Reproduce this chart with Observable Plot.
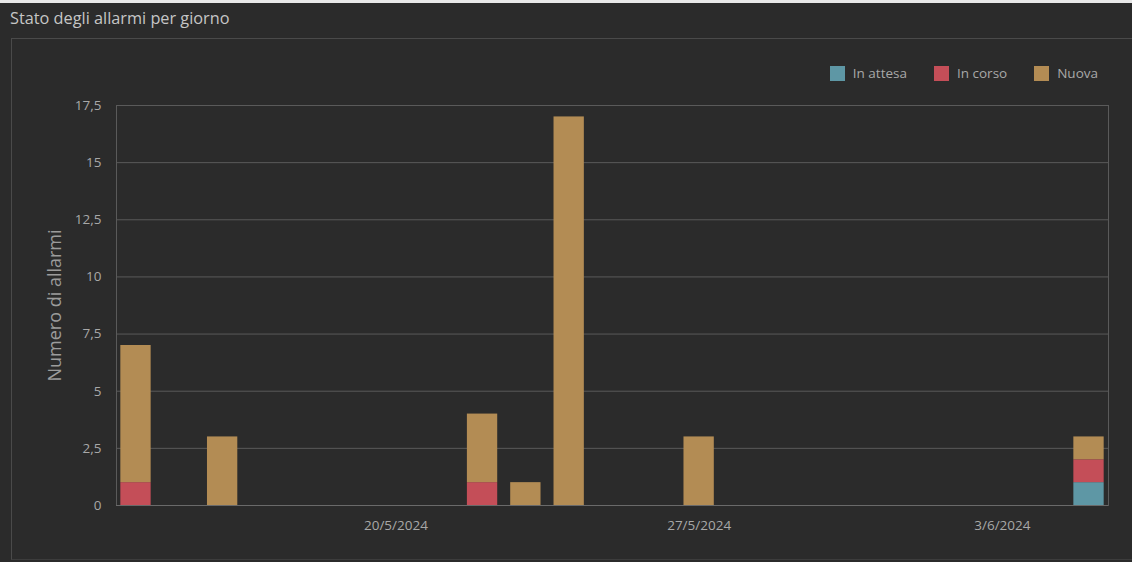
<!DOCTYPE html>
<html>
<head>
<meta charset="utf-8">
<script src="https://cdn.jsdelivr.net/npm/d3@7"></script>
<script src="https://cdn.jsdelivr.net/npm/@observablehq/plot@0.6"></script>
<style>
  html, body { margin: 0; padding: 0; background: #2b2b2b; width: 1132px; height: 562px; overflow: hidden; font-family: "Open Sans", "Noto Sans", sans-serif; }
  #topstrip { position: absolute; left: 0; top: 0; width: 1132px; height: 3px; background: #e8e8e8; }
  #title { position: absolute; left: 10px; top: 7px; font-size: 16.3px; color: #c6c6c6; }
  #panel { position: absolute; left: 11px; top: 38px; width: 1121px; height: 522px; border-top: 1px solid #4a4a4a; border-left: 1px solid #4a4a4a; border-bottom: 1px solid #3c3c3c; box-sizing: border-box; }
  #legend { position: absolute; right: 34px; top: 64px; display: flex; gap: 27px; font-size: 13.5px; color: #a8a8a8; }
  #legend .item { display: flex; align-items: center; gap: 8px; }
  #legend .sw { width: 15px; height: 15px; display: inline-block; }
  #chart { position: absolute; left: 0; top: 60px; }
</style>
</head>
<body>
<div id="topstrip"></div>
<div id="title">Stato degli allarmi per giorno</div>
<div id="panel"></div>
<div id="legend"></div>
<div id="chart"></div>
<script>
// Data
const dates = ["2024-05-14", "2024-05-16", "2024-05-22", "2024-05-23", "2024-05-24", "2024-05-27", "2024-06-05"];
const inAttesa = [0, 0, 0, 0, 0, 0, 1];
const inCorso  = [1, 0, 1, 0, 0, 0, 1];
const nuova    = [6, 3, 3, 1, 17, 3, 1];
const statuses = ["In attesa", "In corso", "Nuova"];
const colors = ["#5e97a5", "#c44e58", "#b38c54"];
const yTicks = [0, 2.5, 5, 7.5, 10, 12.5, 15, 17.5];
const xTickDates = ["2024-05-20", "2024-05-27", "2024-06-03"];
const firstDay = "2024-05-14";
const lastDay = "2024-06-05";

// Build tidy table
const series = [inAttesa, inCorso, nuova];
const table = [];
dates.forEach((d, i) => {
  statuses.forEach((s, k) => {
    if (series[k][i] > 0) table.push({date: d, status: s, value: series[k][i]});
  });
});

// full day domain for band scale
const fmtISO = d3.utcFormat("%Y-%m-%d");
const dayDomain = d3.utcDay.range(new Date(firstDay + "T00:00Z"), d3.utcDay.offset(new Date(lastDay + "T00:00Z"), 1)).map(fmtISO);
const fmtLabel = s => { const [y, m, d] = s.split("-"); return `${+d}/${+m}/${y}`; };

// Legend
const legend = document.getElementById("legend");
statuses.forEach((s, k) => {
  const it = document.createElement("div");
  it.className = "item";
  it.innerHTML = `<span class="sw" style="background:${colors[k]}"></span><span>${s}</span>`;
  legend.appendChild(it);
});

const plot = Plot.plot({
  width: 1132,
  height: 480,
  marginLeft: 116,
  marginRight: 24,
  marginTop: 45,
  marginBottom: 35,
  style: { background: "transparent", color: "#a8a8a8", fontFamily: "'Open Sans', 'Noto Sans', sans-serif", fontSize: "13.5px" },
  x: { type: "band", domain: dayDomain, paddingInner: 0.3, paddingOuter: 0.1, round: false, label: null },
  y: { domain: [0, 17.5], label: null },
  color: { domain: statuses, range: colors },
  marks: [
    Plot.gridY(yTicks, { stroke: "#5a5a5a", strokeOpacity: 1 }),
    Plot.frame({ stroke: "#5a5a5a" }),
    Plot.barY(table, { x: "date", y: "value", fill: "status", order: statuses }),
    Plot.ruleY([0], { stroke: "#6a6a6a" }),
    Plot.axisY({ ticks: yTicks, tickSize: 0, tickPadding: 15, tickFormat: d => String(d).replace(".", ","), label: null, fill: "#a8a8a8" }),
    Plot.axisX({ ticks: xTickDates, tickSize: 0, tickPadding: 15, tickFormat: fmtLabel, label: null, fill: "#a8a8a8" }),
    Plot.text(["Numero di allarmi"], { frameAnchor: "left", dx: -61, rotate: -90, textAnchor: "middle", lineAnchor: "middle", fontSize: 18, fill: "#9c9c9c" })
  ]
});
document.getElementById("chart").appendChild(plot);
</script>
</body>
</html>
